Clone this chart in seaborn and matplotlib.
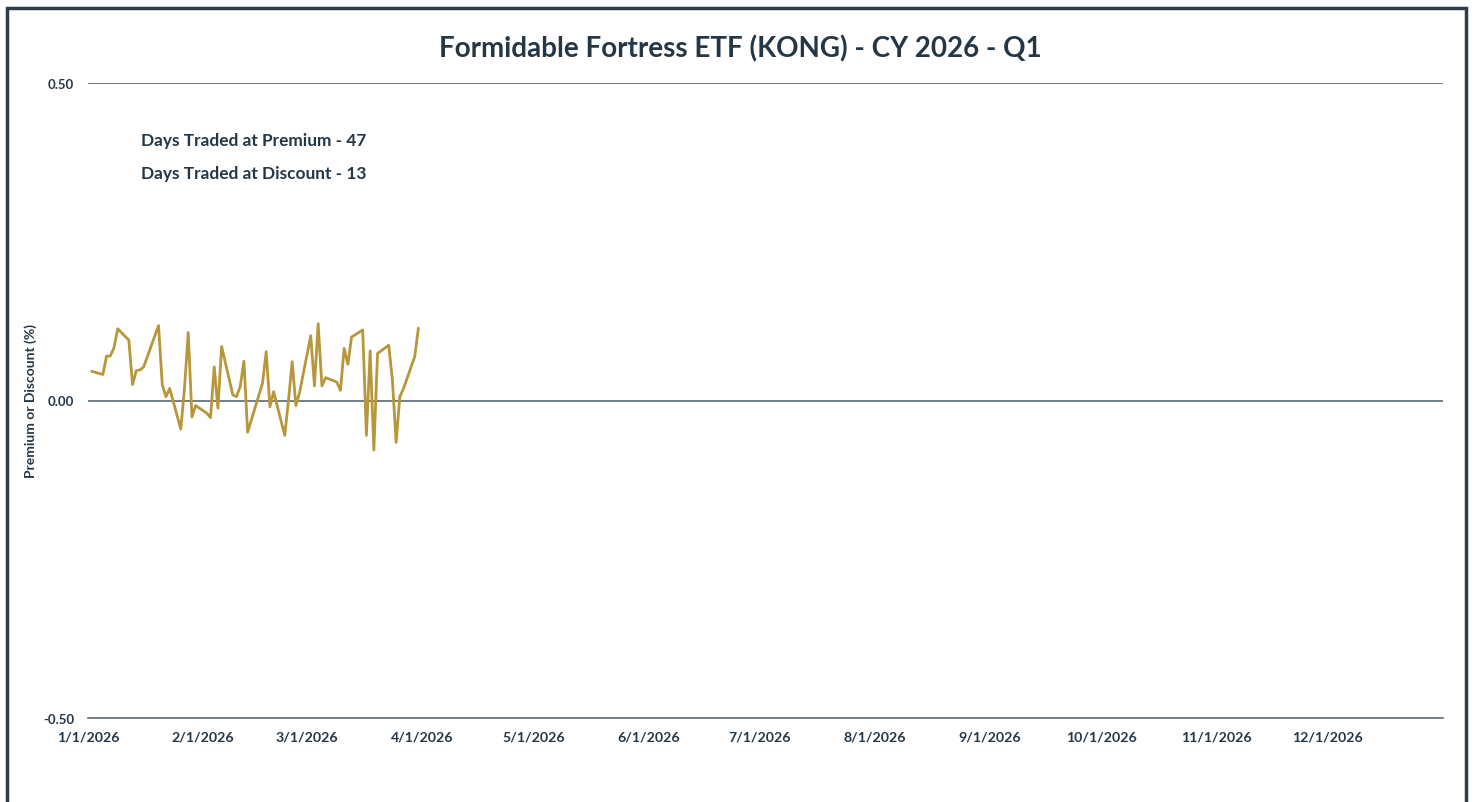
import seaborn as sns
import pandas as pd
import matplotlib.pyplot as plt
from matplotlib.patches import Rectangle

# trading days of Q1 2026 and premium/discount values (%)
jan_days = [2, 5, 6, 7, 8, 9, 12, 13, 14, 15, 16, 20, 21, 22, 23, 26, 27, 28, 29, 30]
jan_vals = [0.046, 0.041, 0.070, 0.070, 0.083, 0.113, 0.095, 0.025, 0.047, 0.048,
            0.053, 0.118, 0.025, 0.006, 0.019, -0.045, 0.020, 0.107, -0.026, -0.008]
feb_days = [2, 3, 4, 5, 6, 9, 10, 11, 12, 13, 17, 18, 19, 20, 23, 24, 25, 26, 27]
feb_vals = [-0.020, -0.027, 0.053, -0.012, 0.085, 0.009, 0.006, 0.022, 0.062, -0.050,
            0.027, 0.077, -0.010, 0.014, -0.055, 0.000, 0.061, -0.008, 0.013]
mar_days = [2, 3, 4, 5, 6, 9, 10, 11, 12, 13, 16, 17, 18, 19, 20, 23, 24, 25, 26, 27, 30, 31]
mar_vals = [0.102, 0.023, 0.121, 0.023, 0.036, 0.029, 0.016, 0.082, 0.057, 0.100, 0.111,
            -0.055, 0.078, -0.078, 0.074, 0.087, 0.032, -0.066, 0.006, 0.019, 0.069, 0.114]

title = "Formidable Fortress ETF (KONG) - CY 2026 - Q1"
y_label = "Premium or Discount (%)"
y_ticks = [-0.50, 0.00, 0.50]

dates = ([pd.Timestamp(2026, 1, d) for d in jan_days]
         + [pd.Timestamp(2026, 2, d) for d in feb_days]
         + [pd.Timestamp(2026, 3, d) for d in mar_days])
df = pd.DataFrame({"date": dates, "value": jan_vals + feb_vals + mar_vals})

n_prem = int((df["value"] > 0).sum())
n_disc = int((df["value"] < 0).sum())

navy = "#243746"
gold = "#B8963A"
axis_c = "#4A5A68"

sns.set_style("white")
plt.rcParams["font.family"] = ["Lato", "DejaVu Sans"]

fig = plt.figure(figsize=(14.75, 8.03), dpi=100)
ax = fig.add_axes([88 / 1475, 1 - 719 / 803, (1443 - 88) / 1475, (719 - 84) / 803])

sns.lineplot(data=df, x="date", y="value", color=gold, linewidth=2, ax=ax)

for yv in [0.0, 0.5]:
    ax.axhline(yv, color=axis_c, linewidth=1.1, zorder=0)

ax.set_xlim(pd.Timestamp(2026, 1, 1), pd.Timestamp(2027, 1, 1))
ax.set_ylim(-0.5, 0.5)
ax.set_yticks(y_ticks)
ax.set_yticklabels([f"{v:.2f}" for v in y_ticks], fontsize=9.5, fontweight="bold", color=navy)

ticks = pd.date_range("2026-01-01", "2027-01-01", freq="MS")
ax.set_xticks(ticks)
ax.set_xticklabels([f"{t.month}/{t.day}/{t.year}" for t in ticks[:-1]] + [""],
                   fontsize=10.2, fontweight="bold", color=navy)

for s in ["top", "right", "left"]:
    ax.spines[s].set_visible(False)
ax.spines["bottom"].set_color(axis_c)
ax.spines["bottom"].set_linewidth(1.1)
ax.tick_params(axis="x", direction="out", length=5, width=1, color=axis_c, pad=4)
ax.tick_params(axis="y", length=0, pad=10)

ax.set_xlabel("")
ax.set_ylabel(y_label, fontsize=10, fontweight="bold", color=navy, labelpad=4)

fig.text(740 / 1475, 1 - 49 / 803, title, ha="center", va="center",
         fontsize=20, fontweight="bold", color=navy)
fig.text(141 / 1475, 1 - 141 / 803, f"Days Traded at Premium - {n_prem}",
         ha="left", va="center", fontsize=12.4, fontweight="bold", color=navy)
fig.text(141 / 1475, 1 - 174 / 803, f"Days Traded at Discount - {n_disc}",
         ha="left", va="center", fontsize=12.4, fontweight="bold", color=navy)

# outer frame (open at bottom edge of image)
fig.patches.append(Rectangle((7 / 1475, -0.05), (1466 - 7) / 1475, 1 - 9 / 803 + 0.05,
                             transform=fig.transFigure, fill=False,
                             edgecolor="#2E3D4C", linewidth=2.5))

fig.savefig("out.png", dpi=100)
